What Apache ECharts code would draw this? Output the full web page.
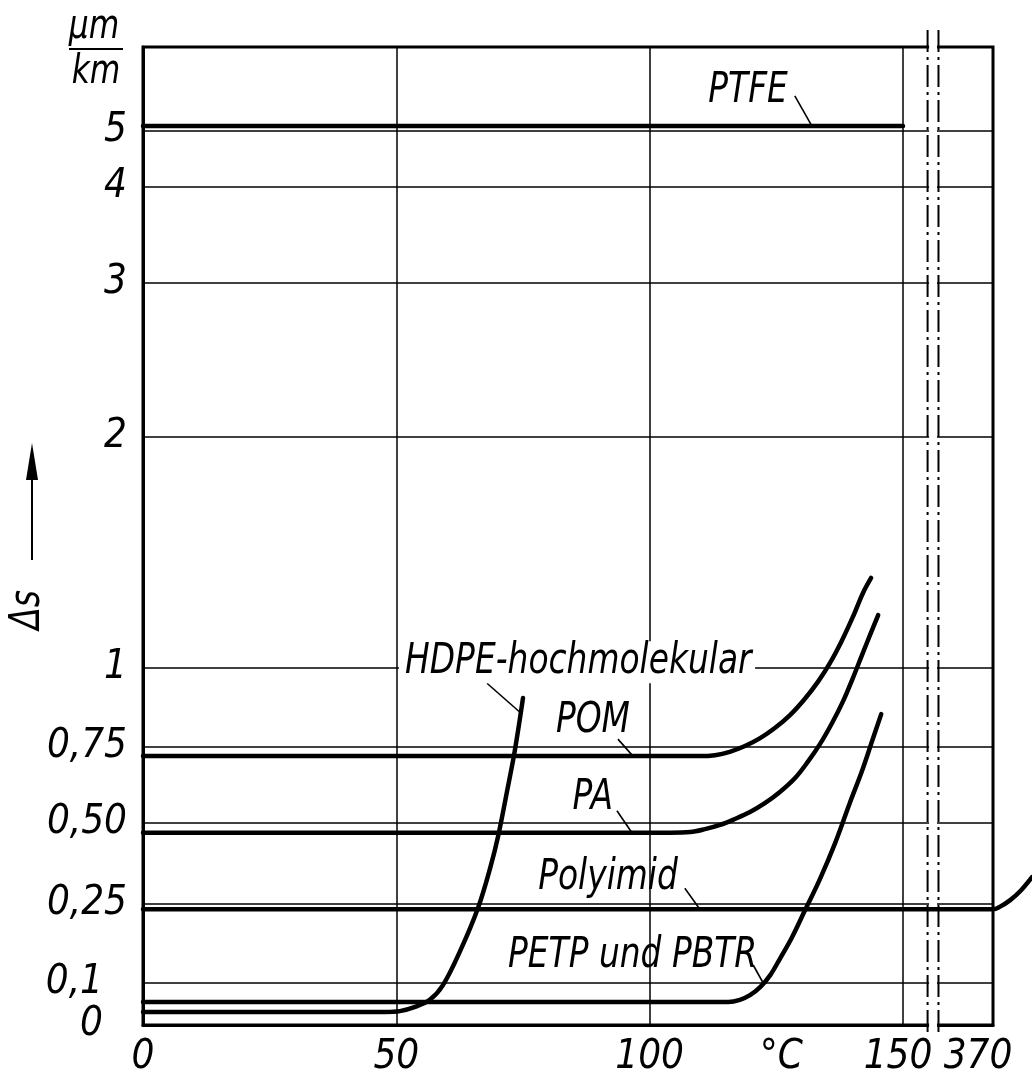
<!DOCTYPE html>
<html><head><meta charset="utf-8">
<script src="https://cdn.jsdelivr.net/npm/echarts@6/dist/echarts.min.js"></script>
<style>html,body{margin:0;padding:0;background:#fff}#c{width:1032px;height:1077px}</style>
</head><body><div id="c"></div>
<script>
// ---------------- data ----------------
const xTickValues = [0, 50, 100, 150, 370];
const xTickLabels = ['0', '50', '100', '150', '370'];
const xUnit = '°C';
const yTickValues = [0, 0.1, 0.25, 0.5, 0.75, 1, 2, 3, 4, 5];
const yTickLabels = ['0', '0,1', '0,25', '0,50', '0,75', '1', '2', '3', '4', '5'];
const yUnitTop = 'µm';
const yUnitBottom = 'km';
const yName = 'Δs';

const ptfe = [[0, 5.06], [150, 5.06]];
const pom = [[0, 0.72], [109.9, 0.72], [112.9, 0.723], [115.8, 0.734], [118.8, 0.753], [121.8, 0.778], [124.7, 0.81], [127.7, 0.851], [130.6, 0.902], [133.2, 0.956], [135.6, 1.022], [137.9, 1.117], [140.1, 1.221], [142.1, 1.325], [143.7, 1.39]];
const pa = [[0, 0.47], [104, 0.47], [108, 0.472], [110.9, 0.481], [113.9, 0.494], [116.8, 0.513], [119.8, 0.536], [122.8, 0.566], [125.7, 0.602], [128.7, 0.648], [131.2, 0.701], [133.6, 0.759], [136, 0.826], [138.2, 0.896], [140.1, 0.968], [141.9, 1.056], [143.5, 1.143], [145.1, 1.229]];
const polyimid = [[0, 0.24], [370, 0.24], [371.4, 0.245], [373.4, 0.262], [375.4, 0.29], [377.7, 0.333]];
const petp = [[0, 0.055], [115.5, 0.055], [117.8, 0.06], [119.8, 0.071], [121.8, 0.09], [123.8, 0.115], [125.7, 0.146], [128.1, 0.187], [130.6, 0.237], [133.6, 0.327], [136.6, 0.438], [139.5, 0.566], [141.9, 0.671], [143.9, 0.769], [145.7, 0.854]];
const hdpe = [[0, 0.031], [47.8, 0.031], [50.7, 0.033], [53.7, 0.043], [56.6, 0.06], [59.2, 0.095], [62.6, 0.161], [66.1, 0.242], [68.5, 0.36], [70.1, 0.46], [71.8, 0.6], [73.4, 0.74], [75, 0.905]];

// ---------------- axis scale definitions (non-linear drawing scales) ----------------
const yScaleKnots = [0, 0.1, 0.25, 0.5, 0.75, 1, 2, 3, 4, 5, 6];
const yScalePos   = [0, 42, 121, 202, 278, 357, 588, 742, 838, 894, 978];
const xScaleKnots = [0, 150, 370, 400];
const xScalePos   = [0, 150, 167.76, 197.76];
const xUnitAt = 126;
const breakBand = [154.85, 157.0]; // axis units of the broken-axis marks

function interp(v, ks, ps) {
  let i = 0;
  while (i < ks.length - 2 && v > ks[i + 1]) i++;
  return ps[i] + (v - ks[i]) / (ks[i + 1] - ks[i]) * (ps[i + 1] - ps[i]);
}
const xPos = t => interp(t, xScaleKnots, xScalePos);
const yPos = v => interp(v, yScaleKnots, yScalePos);

// ---------------- layout ----------------
const W = 1032;
const G = { left: 143, right: 39, top: 47, bottom: 52 };
const FONT = "'Liberation Sans Narrow','DejaVu Sans Condensed','Liberation Sans',sans-serif";
const lbl = { fontFamily: FONT, fontStyle: 'italic', fontSize: 40, color: '#000' };
const NARROW = 0.87;

function near(a, b) { return Math.abs(a - b) < 0.01; }
function fx(val) {
  for (let i = 0; i < xTickValues.length; i++) {
    if (near(xPos(xTickValues[i]), val)) {
      if (i === xTickValues.length - 1) return '{r|' + xTickLabels[i] + '}';
      if (i === xTickValues.length - 2) return '{q|' + xTickLabels[i] + '}';
      return xTickLabels[i];
    }
  }
  if (near(xPos(xUnitAt), val)) return xUnit;
  return '';
}
function fy(val) {
  for (let i = 0; i < yTickValues.length; i++) {
    if (near(yPos(yTickValues[i]), val)) {
      return yTickValues[i] < 0.2 ? '{s|' + yTickLabels[i] + '}' : yTickLabels[i];
    }
  }
  return '';
}

const seriesDefs = [
  { name: 'PTFE', data: ptfe },
  { name: 'POM', data: pom },
  { name: 'PA', data: pa },
  { name: 'Polyimid', data: polyimid, tail: true },
  { name: 'PETP und PBTR', data: petp },
  { name: 'HDPE-hochmolekular', data: hdpe }
];

const xMax = xPos(370);
const xMaxWide = xMax * (W - G.left) / (W - G.left - G.right);
const hidden = { show: false };

const chart = echarts.init(document.getElementById('c'), null, { renderer: 'canvas' });
const option = {
  animation: false,
  backgroundColor: '#fff',
  grid: [
    Object.assign({ show: true, borderColor: '#000', borderWidth: 3, backgroundColor: 'transparent',
                    containLabel: false, outerBoundsMode: 'none' }, G),
    { left: G.left, right: 0, top: G.top, bottom: G.bottom, show: false, containLabel: false, outerBoundsMode: 'none' }
  ],
  xAxis: [{
    type: 'value', min: 0, max: xMax, gridIndex: 0,
    axisLine: { show: true, lineStyle: { color: '#000', width: 3 } },
    axisTick: { show: false, customValues: xTickValues.slice(0, -1).map(xPos) },
    splitLine: { show: true, lineStyle: { color: '#000', width: 1.5 } },
    axisLabel: Object.assign({}, lbl, {
      customValues: xTickValues.map(xPos).concat([xPos(xUnitAt)]),
      formatter: fx, margin: 13,
      rich: {
        r: Object.assign({}, lbl, { padding: [0, 30, 0, 0] }),
        q: Object.assign({}, lbl, { padding: [0, 10, 0, 0] })
      }
    })
  }, {
    type: 'value', min: 0, max: xMaxWide, gridIndex: 1,
    axisLine: hidden, axisTick: hidden, splitLine: hidden, axisLabel: hidden
  }],
  yAxis: [{
    type: 'value', min: 0, max: yPos(6), gridIndex: 0,
    axisLine: { show: true, lineStyle: { color: '#000', width: 3 } },
    axisTick: { show: false, customValues: yTickValues.slice(1).map(yPos) },
    splitLine: { show: true, lineStyle: { color: '#000', width: 1.5 } },
    axisLabel: Object.assign({}, lbl, {
      customValues: yTickValues.map(yPos),
      formatter: fy, margin: 16,
      rich: { s: Object.assign({}, lbl, { padding: [0, 24, 0, 0] }) }
    })
  }, {
    type: 'value', min: 0, max: yPos(6), gridIndex: 1,
    axisLine: hidden, axisTick: hidden, splitLine: hidden, axisLabel: hidden
  }],
  series: seriesDefs.map(s => ({
    type: 'line', name: s.name,
    xAxisIndex: s.tail ? 1 : 0, yAxisIndex: s.tail ? 1 : 0,
    data: s.data.map(([t, v]) => [xPos(t), yPos(v)]),
    showSymbol: false, symbol: 'none', smooth: 0.35,
    silent: true, z: 3,
    lineStyle: { color: '#000', width: 4.5, cap: 'round', join: 'round' }
  }))
};
chart.setOption(option);

// ---------------- annotations ----------------
const notes = [
  { text: 'PTFE', at: [132.0, 5.06], lead: [-17, -30], tx: [-24, -35], align: 'right' },
  { text: 'HDPE-hochmolekular', at: [74.4, 0.86], lead: [-33, -29], tx: [-115, -50], align: 'left', bg: true },
  { text: 'POM', at: [96.7, 0.72], lead: [-15, -17], tx: [-3, -35], align: 'right' },
  { text: 'PA', at: [96.5, 0.47], lead: [-15, -22], tx: [-19, -35], align: 'right' },
  { text: 'Polyimid', at: [109.9, 0.24], lead: [-15, -21], tx: [-22, -31], align: 'right' },
  { text: 'PETP und PBTR', at: [122.4, 0.1], lead: [-10, -18], tx: [-6, -27], align: 'right' }
];
const font = 'italic 42px ' + FONT;
const P = (t, v) => chart.convertToPixel({ gridIndex: 0 }, [xPos(t), yPos(v)]);
const U = (u, c) => chart.convertToPixel({ gridIndex: 0 }, [u, c]);
const g = [];
notes.forEach(n => {
  const a = P(n.at[0], n.at[1]);
  g.push({ type: 'line', z: 10, silent: true,
    shape: { x1: a[0] + n.lead[0], y1: a[1] + n.lead[1], x2: a[0], y2: a[1] },
    style: { stroke: '#000', lineWidth: 1.6 } });
  const st = { text: n.text, font: font, fill: '#000', align: n.align, verticalAlign: 'middle' };
  if (n.bg) { st.backgroundColor = '#fff'; st.padding = [0, 4, 0, 7]; }
  g.push({ type: 'text', z: 11, silent: true, scaleX: NARROW,
    x: a[0] + n.tx[0] + (n.bg ? -6 : 0), y: a[1] + n.tx[1], style: st });
});
// broken-axis marks
const b0 = U(breakBand[0], 0), b1 = U(breakBand[1], 0);
const topPx = U(0, yPos(6))[1], botPx = U(0, 0)[1];
g.push({ type: 'rect', z: 2, silent: true,
  shape: { x: b0[0] + 1.5, y: topPx - 4, width: b1[0] - b0[0] - 3, height: botPx - topPx + 8 },
  style: { fill: '#fff' } });
[b0[0], b1[0]].forEach(x => g.push({ type: 'line', z: 4, silent: true,
  shape: { x1: x, y1: topPx - 17, x2: x, y2: botPx + 10 },
  style: { stroke: '#000', lineWidth: 2, lineDash: [22, 5, 3, 5] } }));
// y unit (fraction) and axis name with arrow
const unitFont = 'italic 40px ' + FONT;
g.push({ type: 'text', z: 10, silent: true, x: 94, y: 28, scaleX: NARROW, style: { text: yUnitTop, font: unitFont, fill: '#000', align: 'center', verticalAlign: 'middle' } });
g.push({ type: 'line', z: 10, silent: true, shape: { x1: 69, y1: 49, x2: 123, y2: 49 }, style: { stroke: '#000', lineWidth: 2 } });
g.push({ type: 'text', z: 10, silent: true, x: 96, y: 73, scaleX: NARROW, style: { text: yUnitBottom, font: unitFont, fill: '#000', align: 'center', verticalAlign: 'middle' } });
g.push({ type: 'text', z: 10, silent: true, x: 28, y: 610, rotation: Math.PI / 2, scaleX: NARROW,
  style: { text: yName, font: 'italic 42px ' + FONT, fill: '#000', align: 'center', verticalAlign: 'middle' } });
g.push({ type: 'line', z: 10, silent: true, shape: { x1: 32, y1: 560, x2: 32, y2: 472 }, style: { stroke: '#000', lineWidth: 2 } });
g.push({ type: 'polygon', z: 10, silent: true, shape: { points: [[32, 443], [26, 480], [38, 480]] }, style: { fill: '#000' } });

chart.setOption({ graphic: { elements: g } });
</script>
</body></html>
